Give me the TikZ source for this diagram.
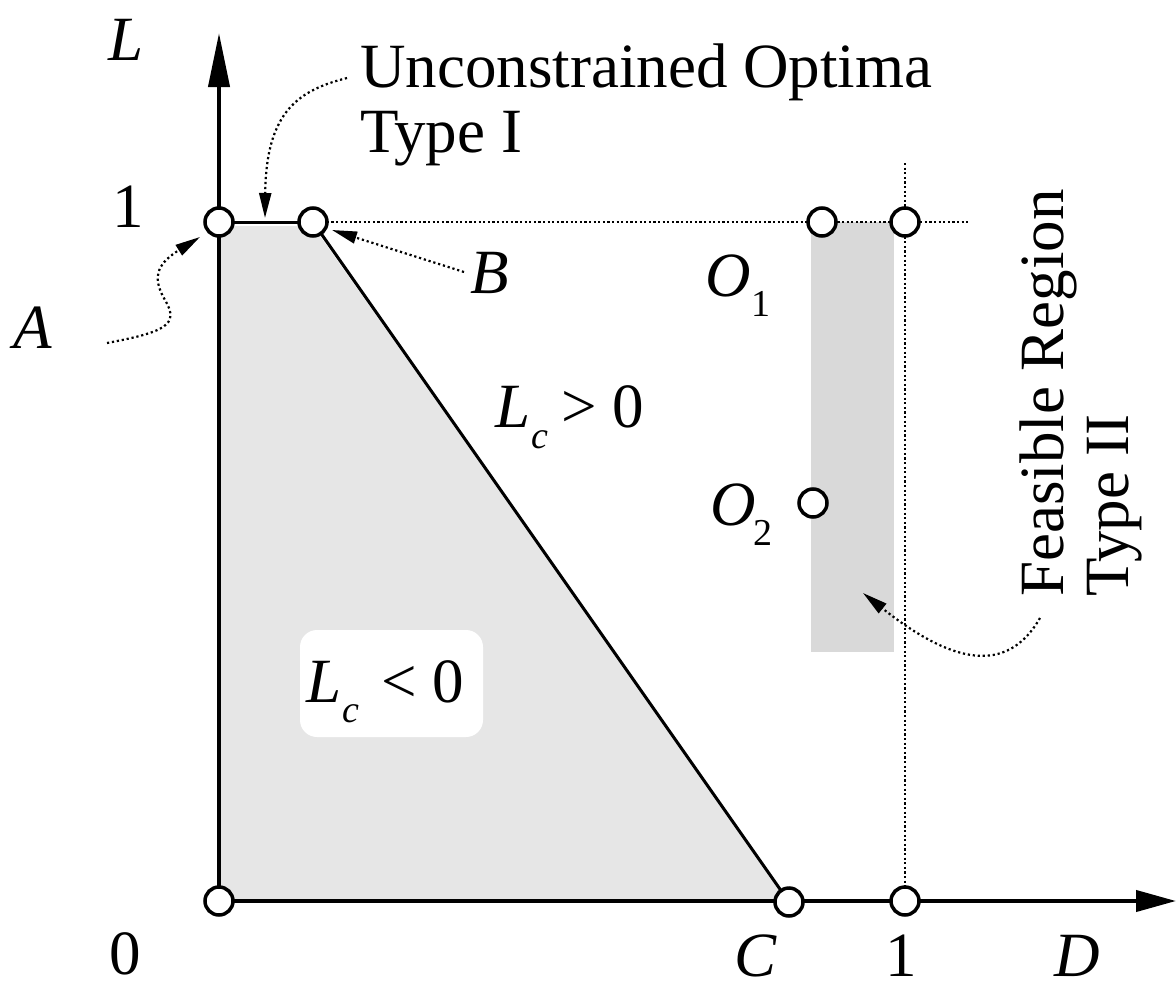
\documentclass[tikz,border=0pt]{standalone}
\usepackage{fontspec}
\setmainfont{Liberation Serif}
\usetikzlibrary{arrows.meta}
\pgfdeclarelayer{bg}
\pgfsetlayers{bg,main}
\definecolor{polygray}{HTML}{E6E6E6}
\definecolor{rectgray}{HTML}{D9D9D9}
\begin{document}
\begin{tikzpicture}[x=1pt,y=-1pt,
  lbl/.style={inner sep=0pt, anchor=base west, font=\fontsize{63}{70}\selectfont},
  sublbl/.style={inner sep=0pt, anchor=base west, font=\fontsize{38}{42}\selectfont},
  pt/.style={circle, draw, line width=3.5pt, fill=white, minimum size=28pt, inner sep=0pt},
  axisline/.style={line width=4pt},
  edgeline/.style={line width=3pt},
  dotline/.style={line width=2.2pt, dash pattern=on 2.2pt off 2.4pt},
  conn/.style={line width=2.2pt, dash pattern=on 2.2pt off 2.8pt, -{Triangle[length=25pt,width=12pt]}}]
\useasboundingbox (0,0) rectangle (1176,985);

% points
\node[pt] (pA) at (219,222) {};
\node[pt] (pB) at (313,222) {};
\node[pt] (pO1) at (822,222) {};
\node[pt] (pR) at (905,222) {};
\node[pt] (pO2) at (813,503) {};
\node[pt] (pO) at (219,901) {};
\node[pt] (pC) at (789,902) {};
\node[pt] (pX1) at (905,901) {};

\coordinate (yTip) at (219,33);
\coordinate (xTip) at (1176,901);
\coordinate (dEnd) at (970,222);
\coordinate (vTop) at (905,163);

\begin{pgfonlayer}{bg}
  \fill[polygray] (219,226) -- (313,226) -- (789,901) -- (219,901) -- cycle;
  \fill[rectgray] (811,222) rectangle (894,652);
  \fill[white, rounded corners=17pt] (300,630) rectangle (483,737);
  \draw[dotline] (pB.center) -- (dEnd);
  \draw[dotline] (vTop) -- (pX1.center);
  \draw[edgeline] (pA.center) -- (pB.center);
  \draw[edgeline] (pB.center) -- (pC.center);
  \draw[axisline, -{Triangle[length=54pt,width=21pt]}] (pO.center) -- (yTip);
  \draw[axisline, -{Triangle[length=40pt,width=21pt]}] (pO.center) -- (xTip);
\end{pgfonlayer}

% labels
\node[lbl] (tL) at (108,60) {\itshape L};
\node[lbl] (tY1) at (112,227) {1};
\node[lbl] (tA) at (13,348) {\itshape A};
\node[lbl] (tB) at (470,293) {\itshape B};
\node[lbl] (tO1) at (705,296) {\itshape O};
\node[sublbl] (tO1s) at (751,316) {1};
\node[lbl] (tO2) at (710,525) {\itshape O};
\node[sublbl] (tO2s) at (753,545) {2};
\node[lbl] (tLg) at (495,427) {\itshape L};
\node[sublbl] (tLgs) at (531,448) {\itshape c};
\node[lbl] (tLgr) at (561,427) {> 0};
\node[lbl] (tLl) at (306,702) {\itshape L};
\node[sublbl] (tLls) at (342,722) {\itshape c};
\node[lbl] (tLlr) at (381,702) {< 0};
\node[lbl] (t0) at (109,974) {0};
\node[lbl] (tC) at (734,976) {\itshape C};
\node[lbl] (tX1) at (885,976) {1};
\node[lbl] (tD) at (1054,976) {\itshape D};
\node[lbl] (tU1) at (360,87) {Unconstrained Optima};
\node[lbl] (tU2) at (360,152) {Type I};
\node[lbl, rotate=90] (tF1) at (1063,597) {Feasible Region};
\node[lbl, rotate=90] (tF2) at (1128,597) {Type II};

% connectors
\coordinate (uStart) at (347,78);
\coordinate (uEnd) at (265,218);
\draw[conn] (uStart) .. controls (300,90) and (266,110) .. (uEnd);
\coordinate (aStart) at (107,343);
\coordinate (aMid) at (165,300);
\coordinate (aEnd) at (200,237);
\draw[conn] (aStart) .. controls (165,332) and (180,325) .. (aMid) .. controls (150,275) and (160,262) .. (aEnd);
\coordinate (bStart) at (464,272);
\coordinate (bEnd) at (332,230);
\draw[conn] (bStart) -- (bEnd);
\coordinate (fStart) at (1040,618);
\coordinate (fEnd) at (863,593);
\draw[conn] (fStart) .. controls (1010,670) and (960,670) .. (fEnd);
\end{tikzpicture}
\end{document}
